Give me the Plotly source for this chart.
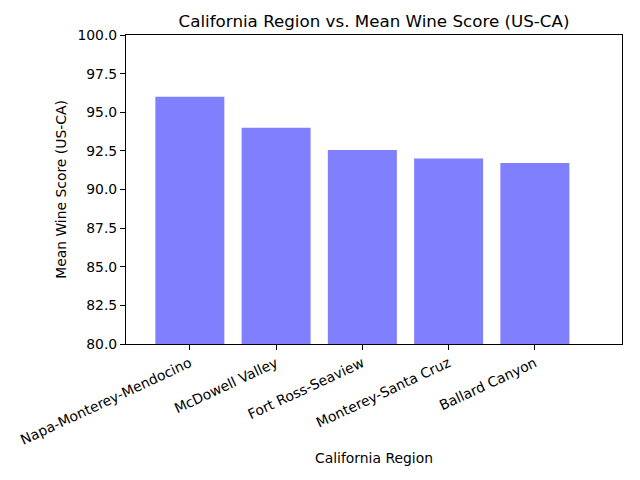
import plotly.graph_objects as go

regions = ["Napa-Monterey-Mendocino", "McDowell Valley", "Fort Ross-Seaview",
           "Monterey-Santa Cruz", "Ballard Canyon"]
scores = [96.0, 94.0, 92.56, 92.0, 91.72]
y_ticks = [80.0, 82.5, 85.0, 87.5, 90.0, 92.5, 95.0, 97.5, 100.0]

font = "DejaVu Sans"
fig = go.Figure(go.Bar(
    x=list(range(len(regions))), y=scores, width=0.8,
    marker=dict(color="#8080FF", line=dict(width=0)),
))
fig.update_layout(
    width=640, height=480,
    margin=dict(l=126, r=18, t=35, b=136, autoexpand=False),
    plot_bgcolor="white", paper_bgcolor="white",
    font=dict(family=font, size=13.9, color="black"),
    title=dict(text="California Region vs. Mean Wine Score (US-CA)",
               x=0.5, xref="paper", xanchor="center", y=1 - 21 / 480, yanchor="middle",
               font=dict(size=16.7, family=font, color="black")),
    showlegend=False,
)
fig.update_xaxes(
    range=[-0.74, 5.01], tickmode="array", tickvals=list(range(len(regions))),
    ticktext=regions, tickangle=-25, showline=True, linecolor="black", linewidth=1,
    mirror=True, ticks="outside", ticklen=5, tickcolor="black", showgrid=False,
    zeroline=False, automargin=False,
    title=dict(text="California Region", font=dict(size=13.9, family=font), standoff=6),
)
fig.update_yaxes(
    range=[80, 100], tickmode="array", tickvals=y_ticks,
    ticktext=[f"{v:.1f}" for v in y_ticks], showline=True, linecolor="black",
    linewidth=1, mirror=True, ticks="outside", ticklen=5, tickcolor="black",
    showgrid=False, zeroline=False, automargin=False,
    title=dict(text="Mean Wine Score (US-CA)", font=dict(size=13.9, family=font), standoff=7),
)
fig.write_html("out.html")
